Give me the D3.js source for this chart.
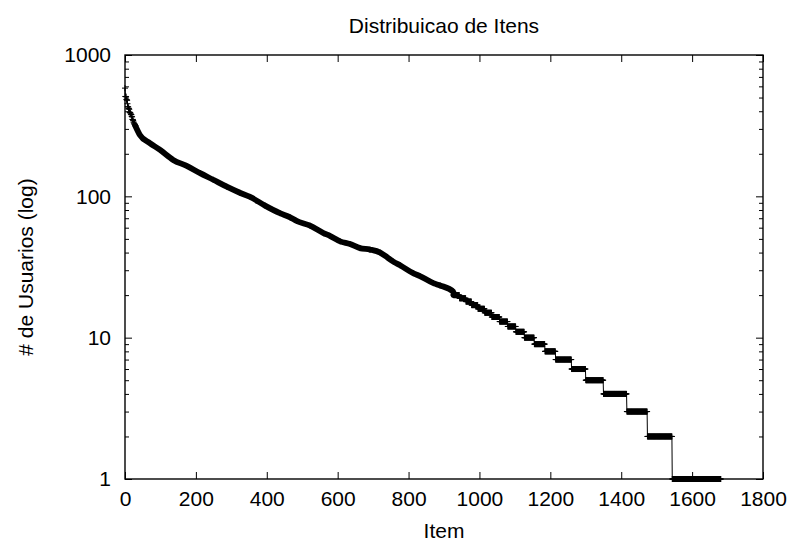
<!DOCTYPE html>
<html><head><meta charset="utf-8">
<script src="https://cdn.jsdelivr.net/npm/d3@7"></script>
<style>body{margin:0;background:#fff} text{font-family:"Liberation Sans",Arial,sans-serif;fill:#000}</style>
</head><body><svg id="c" width="793" height="548"></svg>
<script>
// ---- data ----
const headValues = [583,509,508,507,485,481,478,452,431,429,420,417,413,394,392,390,384,379,378,367,365,350,350,344,336,331,326,324,321,316]; // ranks 0..29
const curveRanks  = [29, 42, 70, 99, 136, 174, 212, 249, 287, 324, 353, 395, 437, 466, 484, 522, 560, 578, 607, 635, 663, 691, 720, 740, 757, 776, 813, 832, 870, 889, 926];
const curveValues = [316,272,238,213,181, 164, 146, 131, 117, 106, 99,  86,  76,  71,  67,  62,  55,  52.5,48,  46,  43,  42,  40,  37,  34.5,32.5,28.6,27.3,24.3,23.4,21.2];
const stepValues = [20, 19, 18, 17, 16, 15, 14, 13, 12, 11, 10, 9, 8, 7, 6, 5, 4, 3, 2, 1];
const stepStart  = [927,944,962,978,996,1015,1035,1057,1080,1103,1127,1155,1185,1215,1260,1300,1350,1416,1474,1544];
const stepEnd    = [943,961,977,995,1014,1034,1056,1079,1102,1126,1154,1184,1214,1259,1299,1349,1415,1473,1543,1681];
const xTicks = [0,200,400,600,800,1000,1200,1400,1600,1800];
const yTicks = [1,10,100,1000];
const titleText = "Distribuicao de Itens", xLabelText = "Item", yLabelText = "# de Usuarios (log)";

// ---- layout ----
const svg = d3.select("#c");
const L=125,R=763,T=55,B=479;
const x = d3.scaleLinear().domain([0,1800]).range([L,R]);
const y = d3.scaleLog().domain([1,1000]).range([B,T]);
const FS = 21;

// combined series for the connecting line
const pts = [];
headValues.forEach((v,i)=>pts.push([i,v]));
curveRanks.forEach((r,i)=>{ if(i>0) pts.push([r,curveValues[i]]); });
stepValues.forEach((v,i)=>{ pts.push([stepStart[i],v]); pts.push([stepEnd[i],v]); });

const line = d3.line().x(d=>x(d[0])).y(d=>y(d[1]));
const lineSmooth = d3.line().x(d=>x(d[0])).y(d=>y(d[1])).curve(d3.curveMonotoneX);
const g = svg.append("g");

// thick band emulating densely packed markers along the continuous part
const bandPts = curveRanks.map((r,i)=>[r,curveValues[i]]);
bandPts.push([stepStart[0],stepValues[0]]);
g.append("path").attr("d",lineSmooth(bandPts)).attr("fill","none").attr("stroke","#000")
  .attr("stroke-width",5.8).attr("stroke-linejoin","round").attr("stroke-linecap","round");

// thin line through every point
g.append("path").attr("d",line(pts)).attr("fill","none").attr("stroke","#000").attr("stroke-width",1);

// markers
const plus = "M-3,0H3M0,-3V3";
const markerPts = [];
headValues.forEach((v,i)=>markerPts.push([i,v]));
curveRanks.forEach((r,i)=>markerPts.push([r,curveValues[i]]));
stepValues.forEach((v,i)=>d3.range(stepStart[i],stepEnd[i]+1).forEach(r=>markerPts.push([r,v])));
g.selectAll("path.m").data(markerPts).join("path").attr("class","m")
  .attr("transform",d=>`translate(${x(d[0])},${y(d[1])})`)
  .attr("d",plus).attr("stroke","#000").attr("stroke-width",1).attr("fill","none");

// ---- axes (ticks inward, mirrored) ----
function styleAxis(sel){ sel.select(".domain").remove(); sel.selectAll("line").attr("stroke","#000").attr("stroke-width",1); sel.selectAll("text").attr("font-size",FS).attr("font-family","Liberation Sans, Arial, sans-serif"); }
const minor = [];
[1,10,100].forEach(d=>{ for(let k=2;k<10;k++) minor.push(d*k); });

svg.append("g").attr("transform",`translate(0,${B})`)
  .call(d3.axisBottom(x).tickValues(xTicks).tickSize(-7).tickPadding(12).tickFormat(d3.format("d")))
  .call(styleAxis);
svg.append("g").attr("transform",`translate(0,${T})`)
  .call(d3.axisTop(x).tickValues(xTicks).tickSize(-7).tickFormat(""))
  .call(styleAxis);
svg.append("g").attr("transform",`translate(${L},0)`)
  .call(d3.axisLeft(y).tickValues(yTicks).tickSize(-7).tickPadding(14).tickFormat(d3.format("d")))
  .call(styleAxis);
svg.append("g").attr("transform",`translate(${L},0)`)
  .call(d3.axisLeft(y).tickValues(minor).tickSize(-4).tickFormat(""))
  .call(styleAxis);
svg.append("g").attr("transform",`translate(${R},0)`)
  .call(d3.axisRight(y).tickValues(yTicks).tickSize(-7).tickFormat(""))
  .call(styleAxis);
svg.append("g").attr("transform",`translate(${R},0)`)
  .call(d3.axisRight(y).tickValues(minor).tickSize(-4).tickFormat(""))
  .call(styleAxis);

// frame
svg.append("rect").attr("x",L).attr("y",T).attr("width",R-L).attr("height",B-T)
  .attr("fill","none").attr("stroke","#000").attr("stroke-width",1.4);

// titles
svg.append("text").attr("x",(L+R)/2).attr("y",33).attr("text-anchor","middle").attr("font-size",FS).text(titleText);
svg.append("text").attr("x",(L+R)/2).attr("y",538).attr("text-anchor","middle").attr("font-size",FS).text(xLabelText);
svg.append("text").attr("transform",`translate(33,${(T+B)/2}) rotate(-90)`).attr("text-anchor","middle").attr("font-size",FS).text(yLabelText);
</script></body></html>
